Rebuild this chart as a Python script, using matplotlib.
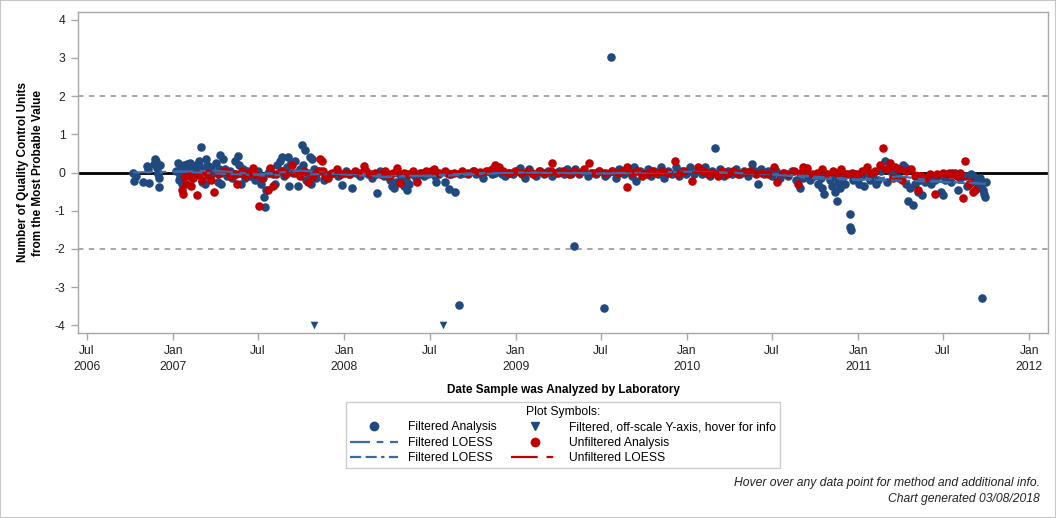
import numpy as np
import pandas as pd
import matplotlib
matplotlib.use("Agg")
import matplotlib.pyplot as plt
from matplotlib.lines import Line2D
from matplotlib.patches import Rectangle

plt.rcParams['font.family'] = ['Liberation Sans', 'DejaVu Sans']

# filtered analysis points
blue_dates = [
    '2006-10-07', '2006-10-09', '2006-10-13', '2006-10-28', '2006-11-07', '2006-11-09', '2006-11-11', '2006-11-22',
    '2006-11-24', '2006-11-26', '2006-11-27', '2006-11-29', '2006-11-30', '2006-12-01', '2006-12-02', '2006-12-03',
    '2007-01-07', '2007-01-11', '2007-01-13', '2007-01-15', '2007-01-17', '2007-01-19', '2007-01-24', '2007-01-26', '2007-01-31',
    '2007-02-02', '2007-02-06', '2007-02-08', '2007-02-10', '2007-02-14', '2007-02-19', '2007-02-21', '2007-02-25', '2007-02-27',
    '2007-03-02', '2007-03-04', '2007-03-06', '2007-03-10', '2007-03-12', '2007-03-15', '2007-03-19', '2007-03-23', '2007-03-27',
    '2007-04-02', '2007-04-06', '2007-04-08', '2007-04-10', '2007-04-12', '2007-04-17', '2007-04-21', '2007-04-25',
    '2007-05-02', '2007-05-06', '2007-05-12', '2007-05-15', '2007-05-19', '2007-05-21', '2007-05-25', '2007-05-30',
    '2007-06-03', '2007-06-07', '2007-06-14', '2007-06-18', '2007-06-24',
    '2007-07-01', '2007-07-07', '2007-07-11', '2007-07-13', '2007-07-16', '2007-07-18', '2007-07-22', '2007-07-27',
    '2007-08-01', '2007-08-07', '2007-08-11', '2007-08-16', '2007-08-20', '2007-08-22', '2007-08-26',
    '2007-09-01', '2007-09-03', '2007-09-05', '2007-09-10', '2007-09-14', '2007-09-18', '2007-09-25', '2007-09-29',
    '2007-10-03', '2007-10-05', '2007-10-09', '2007-10-11', '2007-10-15', '2007-10-20', '2007-10-22', '2007-10-24', '2007-10-28',
    '2007-11-02', '2007-11-10', '2007-11-18', '2007-11-23', '2007-12-02', '2007-12-10', '2007-12-19', '2007-12-27',
    '2008-01-05', '2008-01-13', '2008-01-18', '2008-01-26', '2008-02-04', '2008-02-13', '2008-02-21', '2008-03-01',
    '2008-03-09', '2008-03-11', '2008-03-18', '2008-03-26',
    '2008-04-04', '2008-04-08', '2008-04-12', '2008-04-16', '2008-04-21', '2008-04-25', '2008-05-01', '2008-05-07',
    '2008-05-12', '2008-05-14', '2008-05-18', '2008-05-25',
    '2008-06-02', '2008-06-10', '2008-06-19', '2008-06-27', '2008-07-05', '2008-07-13', '2008-07-15', '2008-07-22',
    '2008-08-02', '2008-08-08', '2008-08-12', '2008-08-16', '2008-08-25',
    '2008-09-02', '2008-09-04', '2008-09-13', '2008-09-21', '2008-10-01', '2008-10-08', '2008-10-16', '2008-10-23',
    '2008-11-02', '2008-11-10', '2008-11-18', '2008-11-27',
    '2008-12-03', '2008-12-09', '2008-12-18', '2008-12-26',
    '2009-01-04', '2009-01-10', '2009-01-15', '2009-01-21', '2009-01-28', '2009-02-05', '2009-02-13', '2009-02-22',
    '2009-03-02', '2009-03-10', '2009-03-18', '2009-03-27',
    '2009-04-04', '2009-04-13', '2009-04-21', '2009-04-28', '2009-05-04', '2009-05-08', '2009-05-16', '2009-05-25',
    '2009-06-03', '2009-06-11', '2009-06-20', '2009-06-28',
    '2009-07-07', '2009-07-11', '2009-07-15', '2009-07-22', '2009-07-26', '2009-08-02', '2009-08-10', '2009-08-19',
    '2009-08-27', '2009-09-05', '2009-09-11', '2009-09-15', '2009-09-22',
    '2009-10-01', '2009-10-09', '2009-10-16', '2009-10-22', '2009-11-01', '2009-11-07', '2009-11-13', '2009-11-22',
    '2009-11-30', '2009-12-08', '2009-12-14', '2009-12-21', '2009-12-29',
    '2010-01-07', '2010-01-15', '2010-01-24', '2010-02-01', '2010-02-09', '2010-02-18', '2010-02-24', '2010-03-02',
    '2010-03-06', '2010-03-12', '2010-03-21', '2010-03-29',
    '2010-04-07', '2010-04-15', '2010-04-24', '2010-05-03', '2010-05-11', '2010-05-20', '2010-05-26', '2010-06-02',
    '2010-06-08', '2010-06-15', '2010-06-23',
    '2010-07-02', '2010-07-10', '2010-07-19', '2010-07-27', '2010-08-05', '2010-08-13', '2010-08-22', '2010-08-31',
    '2010-09-06', '2010-09-12', '2010-09-21', '2010-09-29',
    '2010-10-07', '2010-10-13', '2010-10-17', '2010-10-20', '2010-10-24', '2010-11-02', '2010-11-06', '2010-11-10',
    '2010-11-13', '2010-11-17', '2010-11-19', '2010-11-23', '2010-11-27',
    '2010-12-04', '2010-12-10', '2010-12-14', '2010-12-15', '2010-12-17', '2010-12-21', '2010-12-27',
    '2011-01-03', '2011-01-09', '2011-01-13', '2011-01-20', '2011-01-26', '2011-02-02', '2011-02-08', '2011-02-12',
    '2011-02-19', '2011-02-27', '2011-03-03', '2011-03-09', '2011-03-16', '2011-03-22', '2011-03-29',
    '2011-04-07', '2011-04-11', '2011-04-13', '2011-04-18', '2011-04-22', '2011-04-28', '2011-05-03', '2011-05-09',
    '2011-05-13', '2011-05-18', '2011-05-24', '2011-05-31',
    '2011-06-06', '2011-06-15', '2011-06-21', '2011-06-26', '2011-06-30', '2011-07-06', '2011-07-13', '2011-07-19',
    '2011-07-26', '2011-08-01', '2011-08-07', '2011-08-16', '2011-08-22', '2011-08-29',
    '2011-09-04', '2011-09-08', '2011-09-12', '2011-09-17', '2011-09-21', '2011-09-23', '2011-09-25', '2011-09-27',
    '2011-09-29', '2011-09-30',
]
blue_values = [
    -0.02, -0.22, -0.1, -0.25, 0.18, 0.1, -0.27, 0.22, 0.35, 0.3, 0.12, -0.05, 0.0, -0.15, -0.38, 0.2,
    0.05, 0.25, -0.2, -0.1, 0.15, -0.3, 0.2, 0.05, 0.22, -0.05, 0.25, 0.1, -0.15, 0.12, 0.2, -0.05, 0.3, 0.15,
    0.68, -0.25, 0.05, -0.3, 0.35, 0.2, -0.1, 0.15, 0.0, 0.25, -0.25, 0.08, 0.47, -0.3, 0.35, 0.1, -0.1,
    0.05, -0.15, 0.3, -0.05, 0.43, 0.2, -0.3, 0.1, -0.15, 0.05, -0.1, 0.0, -0.2,
    0.05, -0.3, -0.15, -0.65, -0.9, -0.45, 0.0, 0.1, -0.05, -0.3, 0.2, 0.3, 0.05, 0.4, -0.1,
    0.15, 0.4, -0.35, 0.25, 0.0, 0.3, -0.35, 0.1, 0.73, 0.2, 0.6, -0.2, 0.0, 0.4, -0.3, 0.35, 0.1,
    -0.15, 0.05, -0.2, -0.1, -0.05, 0.0, -0.1, -0.32,
    0.05, -0.05, -0.4, 0.0, -0.1, 0.05, -0.05, -0.15, -0.05, -0.53, 0.05, -0.1,
    -0.05, -0.2, -0.35, -0.4, -0.25, 0.0, -0.1, -0.35, -0.2, -0.45, -0.3, -0.05,
    -0.15, 0.0, -0.1, -0.05, 0.0, -0.1, -0.25, -0.05, -0.25, 0.0, -0.42, -0.05, -0.5,
    -3.47, -0.05, 0.0, -0.05, 0.05, -0.05, 0.0, -0.15, 0.05, -0.05, 0.0, 0.05,
    -0.05, -0.1, 0.0, -0.05,
    0.05, 0.13, -0.05, -0.15, 0.1, 0.0, -0.1, 0.05, -0.05, 0.05, -0.1, 0.0,
    0.05, -0.05, 0.1, -0.05, -1.92, 0.1, -0.05, 0.05, -0.1, 0.0, -0.05, 0.05,
    -3.55, -0.1, -0.05, 3.03, 0.05, -0.15, 0.1, -0.05, 0.05, -0.1, 0.15, -0.22, 0.05,
    -0.05, 0.1, -0.1, 0.05, -0.05, 0.15, -0.15, 0.05, -0.05, 0.15, -0.1, 0.05, -0.05,
    0.15, -0.05, 0.1, -0.05, 0.15, -0.1, 0.05, 0.65, -0.05, 0.1, -0.1, 0.05,
    -0.05, 0.1, -0.05, 0.05, -0.1, 0.22, 0.05, -0.3, 0.1, -0.05, 0.05,
    -0.1, 0.05, -0.15, 0.0, -0.1, 0.05, -0.2, -0.4, -0.15, 0.0, -0.2, -0.1,
    -0.3, -0.15, -0.4, -0.57, -0.05, -0.2, -0.35, -0.1, -0.5, -0.75, -0.25, -0.4, -0.15,
    -0.3, -0.05, -1.08, -1.42, -1.5, -0.2, -0.05,
    -0.3, -0.1, -0.35, 0.0, -0.2, -0.05, -0.3, -0.2, 0.05, 0.3, -0.25, 0.05, -0.1, 0.1, -0.15,
    0.2, 0.15, -0.3, -0.75, -0.4, -0.85, -0.3, -0.5, -0.2, -0.6, -0.25, -0.15,
    -0.3, -0.2, -0.1, -0.5, -0.6, -0.2, 0.0, -0.25, 0.0, -0.45, -0.15, -0.1, -0.35, -0.05,
    -0.1, -0.25, -0.4, -0.15, -0.3, -3.28, -0.45, -0.55, -0.65, -0.25,
]

# off-scale filtered points, shown at the bottom of the axis
offscale_dates = ['2007-10-28', '2008-07-29']
offscale_values = [-4.0, -4.0]

# unfiltered analysis points
red_dates = [
    '2007-01-19', '2007-01-22', '2007-01-26', '2007-01-28', '2007-02-04', '2007-02-08', '2007-02-12', '2007-02-21', '2007-02-25', '2007-03-04',
    '2007-03-15', '2007-03-23', '2007-03-29', '2007-04-06', '2007-04-17', '2007-04-25', '2007-05-04', '2007-05-12', '2007-05-17', '2007-05-28',
    '2007-06-05', '2007-06-14', '2007-06-20', '2007-06-24', '2007-07-03', '2007-07-09', '2007-07-22', '2007-07-27', '2007-08-02', '2007-08-09',
    '2007-08-22', '2007-08-30', '2007-09-12', '2007-09-20', '2007-09-29', '2007-10-07', '2007-10-15', '2007-10-26', '2007-11-06', '2007-11-10',
    '2007-11-14', '2007-11-16', '2007-11-21', '2007-11-27', '2007-12-06', '2007-12-17', '2007-12-25', '2008-01-03', '2008-01-11', '2008-01-24',
    '2008-02-04', '2008-02-11', '2008-02-17', '2008-02-26', '2008-03-07', '2008-03-18', '2008-03-28', '2008-04-06', '2008-04-14', '2008-04-23',
    '2008-04-29', '2008-05-07', '2008-05-16', '2008-05-27', '2008-06-04', '2008-06-12', '2008-06-23', '2008-07-03', '2008-07-11', '2008-07-22',
    '2008-08-02', '2008-08-12', '2008-08-23', '2008-09-09', '2008-09-21', '2008-10-04', '2008-10-16', '2008-10-30', '2008-11-10', '2008-11-18',
    '2008-11-27', '2008-12-05', '2008-12-18', '2008-12-31', '2009-01-12', '2009-01-26', '2009-02-07', '2009-02-20', '2009-03-04', '2009-03-16',
    '2009-03-20', '2009-04-01', '2009-04-11', '2009-04-24', '2009-05-06', '2009-05-16', '2009-05-27', '2009-06-07', '2009-06-18', '2009-06-28',
    '2009-07-11', '2009-07-24', '2009-08-06', '2009-08-16', '2009-08-25', '2009-08-27', '2009-09-05', '2009-09-17', '2009-09-26', '2009-10-07',
    '2009-10-18', '2009-10-26', '2009-11-09', '2009-11-22', '2009-12-06', '2009-12-12', '2009-12-25', '2010-01-11', '2010-01-24', '2010-02-04',
    '2010-02-14', '2010-02-24', '2010-03-08', '2010-03-17', '2010-03-27', '2010-04-09', '2010-04-20', '2010-05-03', '2010-05-15', '2010-05-28',
    '2010-06-10', '2010-06-23', '2010-07-05', '2010-07-13', '2010-07-24', '2010-08-05', '2010-08-17', '2010-08-25', '2010-08-31', '2010-09-06',
    '2010-09-15', '2010-09-25', '2010-10-05', '2010-10-17', '2010-10-26', '2010-11-08', '2010-11-17', '2010-11-25', '2010-12-06', '2010-12-19',
    '2010-12-30', '2011-01-09', '2011-01-20', '2011-01-28', '2011-02-06', '2011-02-16', '2011-02-23', '2011-03-03', '2011-03-09', '2011-03-16',
    '2011-03-20', '2011-03-29', '2011-04-04', '2011-04-13', '2011-04-24', '2011-05-03', '2011-05-09', '2011-05-15', '2011-05-24', '2011-06-04',
    '2011-06-15', '2011-06-19', '2011-06-30', '2011-07-11', '2011-07-21', '2011-07-30', '2011-08-07', '2011-08-12', '2011-08-18', '2011-08-25',
    '2011-09-02', '2011-09-08',
]
red_values = [
    -0.45, -0.55, -0.1, -0.3, -0.05, -0.35, -0.15, -0.6, -0.05, -0.2,
    0.0, -0.2, -0.5, -0.05, 0.05, 0.02, -0.1, -0.05, -0.3, 0.05,
    -0.1, 0.0, 0.12, -0.05, -0.88, -0.15, -0.45, 0.12, -0.35, -0.05,
    0.05, -0.05, 0.2, 0.0, -0.1, 0.05, -0.25, -0.1, 0.05, 0.35,
    0.3, 0.05, -0.1, -0.15, 0.0, 0.1, -0.05, 0.0, -0.05, 0.05,
    -0.02, 0.18, 0.05, -0.05, 0.0, -0.05, 0.05, -0.1, 0.0, 0.13,
    -0.28, 0.0, -0.05, 0.05, -0.25, 0.0, 0.05, 0.03, 0.1, 0.0,
    0.05, -0.05, 0.0, 0.03, 0.0, 0.05, 0.02, 0.05, 0.08, 0.2,
    0.15, 0.05, 0.0, 0.05, 0.0, 0.05, -0.05, 0.03, 0.0, 0.05,
    0.26, 0.0, 0.03, -0.05, 0.05, 0.0, 0.08, 0.25, 0.0, 0.05,
    0.0, 0.05, 0.0, 0.05, -0.37, 0.15, 0.0, 0.05, -0.1, -0.05,
    0.05, 0.0, 0.05, 0.0, 0.3, -0.05, 0.05, -0.22, 0.15, 0.05,
    -0.05, 0.0, -0.1, 0.05, -0.05, 0.05, -0.05, 0.02, 0.05, -0.05,
    0.0, -0.05, 0.15, -0.25, 0.0, -0.05, 0.03, -0.3, 0.0, 0.15,
    0.13, -0.05, 0.0, 0.1, -0.05, 0.05, 0.0, 0.1, -0.05, 0.0,
    -0.1, 0.05, 0.15, 0.0, 0.05, 0.2, 0.63, 0.1, 0.25, -0.15,
    0.15, 0.1, -0.2, 0.05, 0.1, -0.1, -0.45, -0.1, -0.15, -0.05,
    -0.55, -0.05, 0.0, -0.05, 0.0, -0.1, 0.0, -0.68, 0.3, -0.3,
    -0.5, -0.45,
]

# smoothed trend lines (knots)
loess_a_dates = ['2006-10-07', '2007-01-01', '2007-04-01', '2007-07-01', '2007-10-01', '2008-01-01', '2008-04-01',
                 '2008-07-01', '2008-10-01', '2009-01-01', '2009-04-01', '2009-07-01', '2009-10-01', '2010-01-01',
                 '2010-04-01', '2010-07-01', '2010-10-01', '2011-01-01', '2011-04-01', '2011-07-01', '2011-09-30']
loess_a_values = [0.0, 0.02, 0.05, -0.05, 0.05, -0.05, -0.12, -0.08, -0.02, 0.0, 0.0, -0.02, 0.0, 0.02,
                  0.0, -0.05, -0.15, -0.2, -0.1, -0.25, -0.3]
loess_b_dates = ['2007-01-07', '2007-07-01', '2008-01-01', '2008-07-01', '2009-01-01', '2009-07-01',
                 '2010-01-01', '2010-07-01', '2011-01-01', '2011-09-30']
loess_b_values = [0.03, -0.08, -0.03, -0.1, 0.0, -0.03, 0.02, -0.04, -0.18, -0.28]
red_loess_dates = ['2007-01-19', '2007-04-01', '2007-07-01', '2007-10-01', '2008-01-01', '2008-04-01', '2008-07-01',
                   '2009-01-01', '2009-07-01', '2010-01-01', '2010-07-01', '2011-01-01', '2011-04-01', '2011-07-01',
                   '2011-09-08']
red_loess_values = [-0.2, -0.1, -0.12, -0.05, 0.0, -0.05, 0.02, 0.05, 0.05, 0.0, -0.02, 0.02, 0.05, -0.1, -0.2]

tick_dates = ['2006-07-01', '2007-01-01', '2007-07-01', '2008-01-01', '2008-07-01', '2009-01-01',
              '2009-07-01', '2010-01-01', '2010-07-01', '2011-01-01', '2011-07-01', '2012-01-01']
tick_labels = ['Jul\n2006', 'Jan\n2007', 'Jul', 'Jan\n2008', 'Jul', 'Jan\n2009',
               'Jul', 'Jan\n2010', 'Jul', 'Jan\n2011', 'Jul', 'Jan\n2012']

assert len(blue_dates) == len(blue_values)
assert len(red_dates) == len(red_values)

BLUE = '#20497f'
RED = '#c00000'
LOESS_BLUE = '#3c6aa8'
GREY = '#a8a8a8'
FS = 8.7

fig = plt.figure(figsize=(10.56, 5.18), dpi=100)
fig.patches.append(Rectangle((0, 0), 1, 1, transform=fig.transFigure, fill=False,
                             edgecolor='#c8c8c8', linewidth=1.5, zorder=10))
ax = fig.add_axes([78 / 1056, 1 - 333 / 518, 970 / 1056, 321 / 518])

ax.axhline(0, color='black', lw=2, zorder=1)
for ref in (2, -2):
    ax.axhline(ref, color='#a0a0a0', lw=1.3, ls=(0, (3, 3)), zorder=1)

ax.scatter(pd.to_datetime(blue_dates), blue_values, s=38, color=BLUE, zorder=3, linewidths=0)
ax.scatter(pd.to_datetime(offscale_dates), offscale_values, s=30, marker='v', color=BLUE, zorder=3, linewidths=0)
ax.scatter(pd.to_datetime(red_dates), red_values, s=38, color=RED, zorder=4, linewidths=0)

la, = ax.plot(pd.to_datetime(loess_a_dates), loess_a_values, color=LOESS_BLUE, lw=1.6, zorder=5)
la.set_dashes([9, 3, 3, 3])
lb, = ax.plot(pd.to_datetime(loess_b_dates), loess_b_values, color=LOESS_BLUE, lw=1.6, zorder=5)
lb.set_dashes([5, 2, 5, 2, 1.5, 2])
lr, = ax.plot(pd.to_datetime(red_loess_dates), red_loess_values, color=RED, lw=1.6, zorder=5)
lr.set_dashes([12, 4, 3, 4])

ax.set_ylim(-4.2, 4.2)
ax.set_xlim(pd.Timestamp('2006-06-12'), pd.Timestamp('2012-02-10'))
ax.set_yticks(range(-4, 5))
ax.set_yticklabels([str(v) for v in range(-4, 5)])
ax.set_xticks(pd.to_datetime(tick_dates))
ax.set_xticklabels(tick_labels, linespacing=1.35)

for sp in ax.spines.values():
    sp.set_color(GREY)
    sp.set_linewidth(1)
ax.tick_params(axis='both', direction='out', length=5, width=1, color=GREY,
               labelsize=FS, labelcolor='#222222', pad=4)

ax.set_xlabel('Date Sample was Analyzed by Laboratory', fontsize=8.5, fontweight='bold', labelpad=8)
ax.set_ylabel('Number of Quality Control Units\nfrom the Most Probable Value', fontsize=8.5,
              fontweight='bold', labelpad=8, linespacing=1.25)

h_fa = Line2D([], [], marker='o', ls='none', color=BLUE, markersize=6)
h_off = Line2D([], [], marker='v', ls='none', color=BLUE, markersize=6)
h_ua = Line2D([], [], marker='o', ls='none', color=RED, markersize=6)
h_la = Line2D([], [], color=LOESS_BLUE, lw=1.6, dashes=[9, 3, 3, 3])
h_lb = Line2D([], [], color=LOESS_BLUE, lw=1.6, dashes=[5, 2, 5, 2, 1.5, 2])
h_lr = Line2D([], [], color=RED, lw=1.6, dashes=[12, 4, 3, 4])

leg = fig.legend([h_fa, h_la, h_lb, h_off, h_ua, h_lr],
                 ['Filtered Analysis', 'Filtered LOESS', 'Filtered LOESS',
                  'Filtered, off-scale Y-axis, hover for info', 'Unfiltered Analysis', 'Unfiltered LOESS'],
                 ncol=2, loc='center', bbox_to_anchor=(563 / 1056, 1 - 435 / 518),
                 title='Plot Symbols:', fontsize=FS, title_fontsize=FS, frameon=True, fancybox=False,
                 edgecolor='#c0c0c0', handlelength=4, columnspacing=1.2, labelspacing=0.3,
                 borderpad=0.3, handletextpad=0.8)
leg.get_frame().set_linewidth(1)

fig.text(1040 / 1056, 1 - 483 / 518, 'Hover over any data point for method and additional info.',
         ha='right', va='center', fontsize=FS, style='italic', color='#222222')
fig.text(1040 / 1056, 1 - 499 / 518, 'Chart generated 03/08/2018',
         ha='right', va='center', fontsize=FS, style='italic', color='#222222')

fig.savefig('out.png', dpi=100)
